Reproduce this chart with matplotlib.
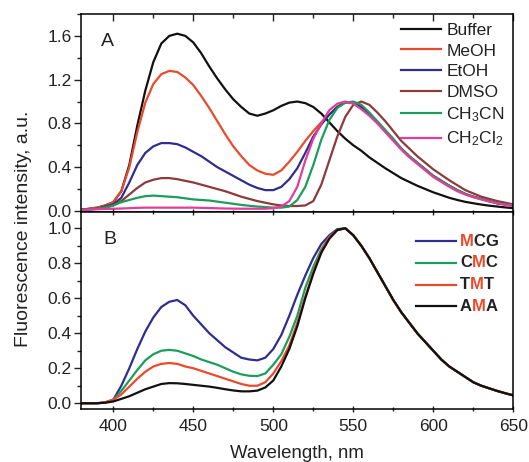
import matplotlib
matplotlib.use("Agg")
import matplotlib.pyplot as plt
from matplotlib.ticker import MultipleLocator, FormatStrFormatter
from matplotlib.offsetbox import AnchoredOffsetbox, HPacker, VPacker, TextArea, DrawingArea
from matplotlib.lines import Line2D

plt.rcParams['font.family'] = ['Liberation Sans', 'DejaVu Sans']
plt.rcParams['mathtext.fontset'] = 'custom'
plt.rcParams['mathtext.rm'] = 'Liberation Sans'

# ---- panel A: dye in different solvents ----
wl_a = list(range(380, 651, 5))

buffer = [0.01, 0.02, 0.03, 0.05, 0.08, 0.18, 0.42, 0.78, 1.10, 1.36, 1.53, 1.60, 1.62, 1.60,
          1.54, 1.44, 1.32, 1.21, 1.11, 1.02, 0.95, 0.89, 0.87, 0.89, 0.92, 0.96, 0.99, 1.00,
          0.985, 0.95, 0.89, 0.81, 0.73, 0.66, 0.60, 0.55, 0.49, 0.44, 0.39, 0.345, 0.30, 0.265,
          0.23, 0.20, 0.17, 0.145, 0.12, 0.10, 0.083, 0.07, 0.058, 0.048, 0.04, 0.032, 0.025]
meoh = [0.01, 0.02, 0.03, 0.05, 0.08, 0.18, 0.40, 0.72, 0.99, 1.16, 1.25, 1.28, 1.27, 1.22,
        1.15, 1.05, 0.94, 0.82, 0.70, 0.59, 0.50, 0.42, 0.37, 0.34, 0.33, 0.37, 0.45, 0.54,
        0.64, 0.73, 0.81, 0.88, 0.95, 0.99, 0.99, 0.95, 0.88, 0.81, 0.73, 0.65, 0.57, 0.50,
        0.44, 0.38, 0.32, 0.275, 0.23, 0.19, 0.155, 0.13, 0.11, 0.09, 0.07, 0.06, 0.05]
etoh = [0.01, 0.015, 0.02, 0.04, 0.06, 0.12, 0.26, 0.42, 0.53, 0.59, 0.62, 0.62, 0.61, 0.58,
        0.54, 0.50, 0.45, 0.40, 0.36, 0.32, 0.28, 0.24, 0.21, 0.19, 0.19, 0.22, 0.29, 0.39,
        0.53, 0.68, 0.79, 0.88, 0.95, 0.995, 0.99, 0.95, 0.89, 0.81, 0.73, 0.65, 0.57, 0.50,
        0.44, 0.38, 0.32, 0.275, 0.23, 0.19, 0.155, 0.13, 0.11, 0.09, 0.07, 0.06, 0.05]
dmso = [0.01, 0.015, 0.02, 0.03, 0.05, 0.09, 0.15, 0.21, 0.26, 0.285, 0.30, 0.30, 0.29, 0.275,
        0.26, 0.24, 0.22, 0.20, 0.18, 0.155, 0.13, 0.11, 0.09, 0.075, 0.06, 0.05, 0.045, 0.045,
        0.05, 0.09, 0.24, 0.46, 0.68, 0.86, 0.97, 1.00, 0.97, 0.90, 0.82, 0.73, 0.64, 0.57,
        0.50, 0.44, 0.38, 0.33, 0.28, 0.235, 0.19, 0.16, 0.13, 0.11, 0.09, 0.075, 0.06]
ch3cn = [0.01, 0.015, 0.02, 0.03, 0.05, 0.08, 0.10, 0.12, 0.135, 0.14, 0.135, 0.13, 0.125, 0.115,
         0.105, 0.10, 0.095, 0.085, 0.075, 0.065, 0.055, 0.047, 0.04, 0.035, 0.03, 0.03, 0.04, 0.10,
         0.22, 0.42, 0.65, 0.83, 0.94, 0.99, 1.00, 0.97, 0.90, 0.82, 0.74, 0.66, 0.57, 0.50,
         0.44, 0.38, 0.32, 0.275, 0.23, 0.19, 0.155, 0.13, 0.11, 0.09, 0.07, 0.06, 0.05]
ch2cl2 = [0.01, 0.012, 0.015, 0.018, 0.02, 0.022, 0.025, 0.028, 0.03, 0.03, 0.03, 0.03, 0.03, 0.03,
          0.03, 0.028, 0.026, 0.024, 0.022, 0.021, 0.02, 0.02, 0.02, 0.02, 0.025, 0.04, 0.09, 0.22,
          0.46, 0.66, 0.80, 0.92, 0.98, 1.00, 0.98, 0.93, 0.87, 0.80, 0.72, 0.64, 0.56, 0.49,
          0.43, 0.37, 0.31, 0.265, 0.22, 0.18, 0.15, 0.125, 0.105, 0.085, 0.07, 0.055, 0.045]

labels_a = ['Buffer', 'MeOH', 'EtOH', 'DMSO', r'$\mathregular{CH_3CN}$', r'$\mathregular{CH_2Cl_2}$']
colors_a = ['#111111', '#ea4a2c', '#2f2d8e', '#8c3a3a', '#1b9e5c', '#e23c9c']

# ---- panel B: sequences ----
wl_b = list(range(380, 651, 5))

tail_b = [0.96, 0.90, 0.83, 0.75, 0.67, 0.59, 0.52, 0.46, 0.40, 0.35, 0.30, 0.25,
          0.21, 0.18, 0.15, 0.12, 0.10, 0.085, 0.07, 0.057, 0.045]
mcg = [0.0, 0.0, 0.0, 0.005, 0.02, 0.10, 0.20, 0.31, 0.41, 0.49, 0.55, 0.58, 0.59, 0.56,
       0.50, 0.45, 0.40, 0.36, 0.32, 0.29, 0.26, 0.25, 0.245, 0.26, 0.31, 0.39, 0.50, 0.62,
       0.73, 0.83, 0.91, 0.96, 0.995, 1.00] + tail_b
cmc = [0.0, 0.0, 0.0, 0.005, 0.02, 0.07, 0.13, 0.19, 0.245, 0.28, 0.30, 0.305, 0.30, 0.285,
       0.27, 0.25, 0.235, 0.22, 0.20, 0.18, 0.165, 0.157, 0.155, 0.17, 0.22, 0.28, 0.38, 0.50,
       0.66, 0.78, 0.88, 0.95, 0.99, 1.00] + tail_b
tmt = [0.0, 0.0, 0.0, 0.005, 0.02, 0.05, 0.095, 0.14, 0.18, 0.21, 0.225, 0.23, 0.225, 0.21,
       0.20, 0.185, 0.17, 0.155, 0.14, 0.125, 0.11, 0.10, 0.10, 0.12, 0.17, 0.24, 0.33, 0.46,
       0.61, 0.75, 0.87, 0.95, 0.99, 1.00] + tail_b
ama = [0.0, 0.0, 0.0, 0.003, 0.01, 0.025, 0.04, 0.06, 0.08, 0.095, 0.11, 0.115, 0.114, 0.11,
       0.105, 0.10, 0.095, 0.088, 0.08, 0.073, 0.068, 0.068, 0.072, 0.09, 0.13, 0.21, 0.31, 0.44,
       0.60, 0.74, 0.86, 0.94, 0.99, 1.00] + tail_b

labels_b = ['MCG', 'CMC', 'TMT', 'AMA']
colors_b = ['#2f2d8e', '#1b9e5c', '#ea4a2c', '#111111']
red_letter = '#ea4a2c'

fig = plt.figure(figsize=(5.29, 4.62), dpi=100)
ax1 = fig.add_axes([0.1537, 0.5411, 0.8166, 0.4286])
ax2 = fig.add_axes([0.1537, 0.1147, 0.8166, 0.4264])

for ys, lab, c in zip([buffer, meoh, etoh, dmso, ch3cn, ch2cl2], labels_a, colors_a):
    ax1.plot(wl_a, ys, color=c, lw=1.6, label=lab)

for ys, c in zip([mcg, cmc, tmt, ama], colors_b):
    ax2.plot(wl_b, ys, color=c, lw=1.6)

for ax in (ax1, ax2):
    ax.set_xlim(380, 650)
    ax.xaxis.set_major_locator(MultipleLocator(50))
    ax.xaxis.set_minor_locator(MultipleLocator(25))
    ax.yaxis.set_major_formatter(FormatStrFormatter('%.1f'))
    for s in ax.spines.values():
        s.set_linewidth(1.1)
    ax.tick_params(which='both', labelsize=12.5, width=1.0, color='#222222', labelcolor='#222222')
    ax.tick_params(which='major', length=5)
    ax.tick_params(which='minor', length=3)

ax1.set_ylim(-0.01, 1.8)
ax1.yaxis.set_major_locator(MultipleLocator(0.4))
ax1.yaxis.set_minor_locator(MultipleLocator(0.2))
ax1.tick_params(axis='x', which='both', direction='in', top=True, bottom=False, labelbottom=False)
ax1.tick_params(axis='y', which='both', direction='out', pad=2)

ax2.set_ylim(-0.033, 1.093)
ax2.yaxis.set_major_locator(MultipleLocator(0.2))
ax2.yaxis.set_minor_locator(MultipleLocator(0.1))
ax2.tick_params(axis='y', which='both', direction='out', pad=2)
# ticks on the shared edge cross into both panels
ax2.tick_params(axis='x', which='both', top=True)
ax2.xaxis.set_tick_params(which='both', direction='inout')
ax2.tick_params(axis='x', which='both', pad=5)

ax1.text(0.045, 0.84, 'A', transform=ax1.transAxes, fontsize=14, color='#222222')
ax2.text(0.050, 0.84, 'B', transform=ax2.transAxes, fontsize=14, color='#222222')

leg = ax1.legend(loc='upper right', frameon=False, fontsize=12.5, handlelength=2.3,
                 handletextpad=0.3, labelspacing=0.32, borderaxespad=0.3, borderpad=0.2)
for t in leg.get_texts():
    t.set_color('#222222')

# legend of panel B with the red M inside each name
rows = []
for lab, c in zip(labels_b, colors_b):
    da = DrawingArea(29, 8, 0, 0)
    da.add_artist(Line2D([0, 29], [4, 4], color=c, lw=1.6))
    parts = []
    for ch in lab:
        parts.append(TextArea(ch, textprops=dict(color=red_letter if ch == 'M' else '#222222',
                                                  fontweight='bold', fontsize=12)))
    word = HPacker(children=parts, align='baseline', pad=0, sep=0)
    rows.append(HPacker(children=[da, word], align='center', pad=0, sep=3))
box = VPacker(children=rows, align='left', pad=0, sep=4.8)
anch = AnchoredOffsetbox(loc='upper right', child=box, pad=0, borderpad=0, frameon=False,
                         bbox_to_anchor=(0.966, 0.89), bbox_transform=ax2.transAxes)
ax2.add_artist(anch)

fig.text(0.562, 0.019, 'Wavelength, nm', ha='center', va='center', fontsize=13.4, color='#222222')
fig.text(0.045, 0.505, 'Fluorescence intensity, a.u.', ha='center', va='center',
         rotation=90, fontsize=14, color='#222222')

fig.savefig('out.png', dpi=100)
